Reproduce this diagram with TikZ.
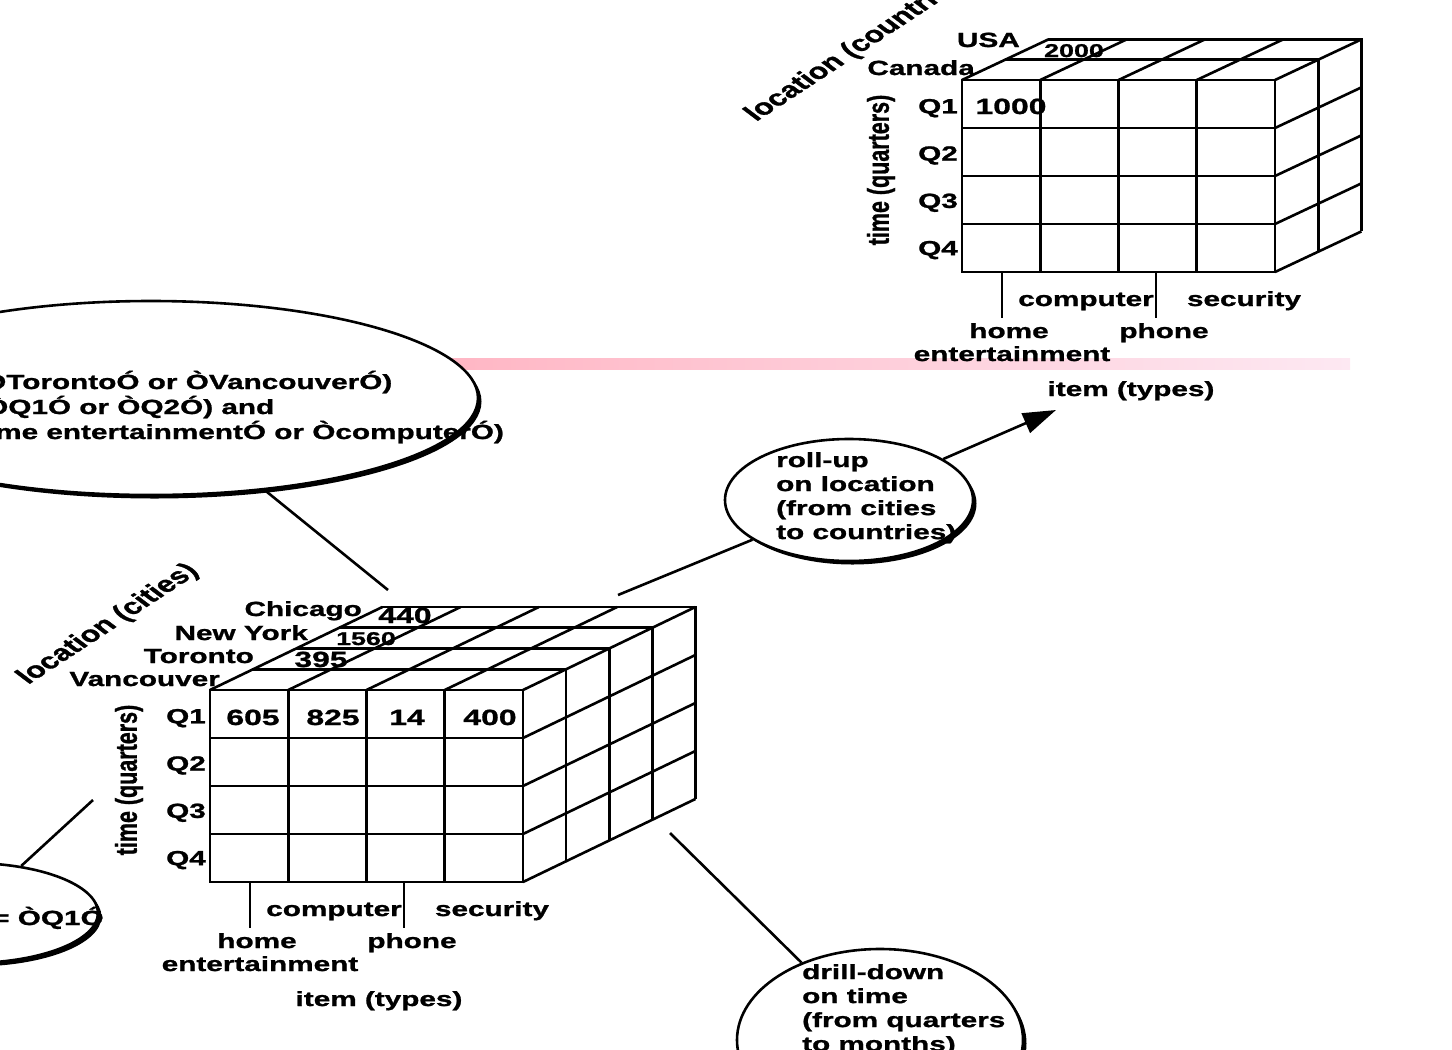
\documentclass[tikz,border=0pt]{standalone}
\usepackage{fontspec}
\setmainfont{Liberation Sans}[FakeStretch=1.45, BoldFeatures={FakeBold=1.2}]
\newfontfamily\uprightfont{Liberation Sans}[BoldFeatures={FakeBold=1.2}]
\usetikzlibrary{arrows.meta,shapes.geometric,shadows}

\definecolor{bandleft}{RGB}{255,182,196}
\definecolor{bandright}{RGB}{253,232,242}

\tikzset{
  cube line/.style={line width=2.6pt},
  link/.style={line width=2.6pt},
  lab/.style={font=\fontsize{20.5}{24}\selectfont\bfseries, inner sep=0pt},
  cell val/.style={font=\fontsize{22}{26}\selectfont\bfseries, inner sep=0pt, anchor=base},
  back val/.style={font=\fontsize{18.5}{22}\selectfont\bfseries, inner sep=0pt, anchor=base},
  time lab/.style={font=\uprightfont\fontsize{21.5}{24}\selectfont\bfseries, rotate=90, inner sep=0pt, transform shape},
  loc lab/.style={font=\uprightfont\fontsize{22.5}{26}\selectfont\bfseries, rotate=43, anchor=base west, inner sep=0pt, transform shape},
  opbubble/.style={ellipse, draw, line width=2.6pt, fill=white, inner sep=0pt,
    drop shadow={opacity=1, fill=black, shadow xshift=3.5pt, shadow yshift=-3.5pt}},
}

% data cube: #1 name, #2 layers, #3 layer x step, #4 layer y step
\newcommand{\datacube}[4]{%
  \draw[cube line] (0,0) rectangle (313,192);
  \foreach \c in {78.25,156.5,234.75}
    \draw[cube line] (\c,0) -- (\c,192);
  \foreach \r in {48,96,144}
    \draw[cube line] (0,\r) -- (313,\r);
  % top and side
  \foreach \k in {1,...,#2}
    \draw[cube line] (\k*#3,-\k*#4) -- (313+\k*#3,-\k*#4) -- (313+\k*#3,192-\k*#4);
  \foreach \c in {0,78.25,156.5,234.75,313}
    \draw[cube line] (\c,0) -- ++(#2*#3,-#2*#4);
  \foreach \r in {48,96,144,192}
    \draw[cube line] (313,\r) -- ++(#2*#3,-#2*#4);
  % time axis
  \foreach \q [count=\j] in {Q1,Q2,Q3,Q4}
    \node[lab, anchor=base east] (#1-\q) at (-4,\j*47.3-14) {\q};
  \begin{scope}[shift={(-81,90)}, xscale=1.4]
    \node[time lab] (#1-time) at (0,0) {time (quarters)};
  \end{scope}
  % item axis
  \draw[cube line] (40,192) -- (40,238);
  \draw[cube line] (194,192) -- (194,238);
  \node[lab, anchor=base] (#1-comp) at (124,226) {computer};
  \node[lab, anchor=base] (#1-sec) at (282,226) {security};
  \node[lab, anchor=base] (#1-home) at (47,258) {home};
  \node[lab, anchor=base] (#1-phone) at (202,258) {phone};
  \node[lab, anchor=base] (#1-ent) at (50,281) {entertainment};
  \node[lab, anchor=base] (#1-item) at (169,316) {item (types)};
}

\begin{document}
\begin{tikzpicture}[x=1pt,y=-1pt]
\useasboundingbox (0,0) rectangle (1452,1050);

\shade[left color=bandleft, right color=bandright] (447,358) rectangle (1350,369);

% upper cube (countries)
\begin{scope}[shift={(962,80)}]
  \datacube{up}{2}{43.2}{20.3}
\end{scope}
\node[lab, anchor=base east] (usa) at (1020,47) {USA};
\node[lab, anchor=base east] (canada) at (975,75) {Canada};
\node[back val] (v2000) at (1074,57) {2000};
\node[cell val] (v1000) at (1011,114) {1000};
\begin{scope}[shift={(756,122)}, xscale=1.42]
  \node[loc lab] (uploc) at (0,0) {location (countries)};
\end{scope}

% lower cube (cities)
\begin{scope}[shift={(210,690)}]
  \datacube{low}{4}{43.1}{20.75}
\end{scope}
\node[lab, anchor=base east] (chicago) at (362,616) {Chicago};
\node[lab, anchor=base east] (newyork) at (308,640) {New York};
\node[lab, anchor=base east] (toronto) at (254,663) {Toronto};
\node[lab, anchor=base east] (vancouver) at (220,686) {Vancouver};
\node[cell val] (v440) at (405,623) {440};
\node[back val] (v1560) at (366,645) {1560};
\node[cell val] (v395) at (321,667) {395};
\node[cell val] (v605) at (253,725) {605};
\node[cell val] (v825) at (333,725) {825};
\node[cell val] (v14) at (407,725) {14};
\node[cell val] (v400) at (490,725) {400};
\begin{scope}[shift={(28,685)}, xscale=1.42]
  \node[loc lab] (lowloc) at (0,0) {location (cities)};
\end{scope}

% dice
\node[opbubble, minimum width=654, minimum height=194] (dice) at (151,398) {};
\node[lab, anchor=base west] (dice1) at (-17,389) {ÒTorontoÓ or ÒVancouverÓ)};
\node[lab, anchor=base west] (dice2) at (-15,414) {ÒQ1Ó or ÒQ2Ó) and};
\node[lab, anchor=base west] (dice3) at (-5,439) {me entertainmentÓ or ÒcomputerÓ)};
\coordinate (dicept) at (388,590);
\draw[link] (dice) -- (dicept);

% slice
\node[opbubble, minimum width=256, minimum height=100] (slice) at (-30,913) {};
\node[lab, anchor=base west] (slicetxt) at (-8,925) {= ÒQ1Ó};
\coordinate (slicept) at (93,800);
\draw[link] (slice) -- (slicept);

% roll-up
\node[opbubble, minimum width=248, minimum height=122] (rollup) at (849,500) {};
\node[lab, anchor=north west, align=left] (rolltxt) at (776,452)
  {roll-up\\on location\\(from cities\\to countries)};
\coordinate (rollfrom) at (618,595);
\coordinate (rolltip) at (1056,410);
\draw[link] (rollfrom) -- (rollup);
\draw[link, -{Triangle[length=33pt,width=21pt]}] (rollup) -- (rolltip);

% drill-down
\node[opbubble, minimum width=286, minimum height=182] (drill) at (880,1040) {};
\node[lab, anchor=north west, align=left] (drilltxt) at (802,964)
  {drill-down\\on time\\(from quarters\\to months)};
\coordinate (drillfrom) at (670,833);
\draw[link] (drillfrom) -- (drill);
\end{tikzpicture}
\end{document}
